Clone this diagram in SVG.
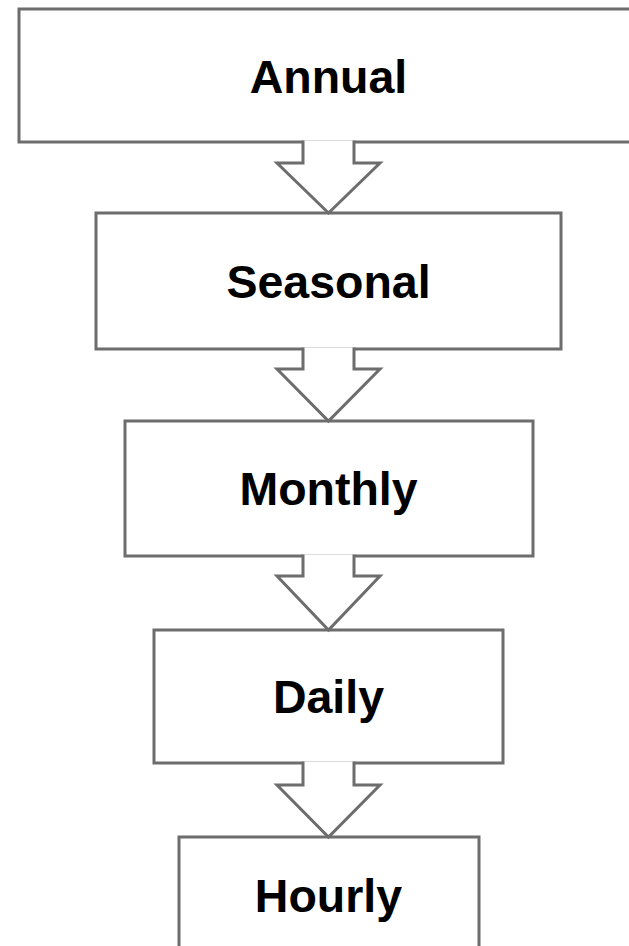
<svg xmlns="http://www.w3.org/2000/svg" width="629" height="946" viewBox="0 0 629 946">
<style>
.box{fill:#ffffff;stroke:#6d6d6d;stroke-width:3}
.lbl{font-family:"Liberation Sans",Arial,sans-serif;font-weight:bold;font-size:46.5px;fill:#000;text-anchor:middle}
.af{fill:#ffffff;stroke:none}
.as{fill:none;stroke:#6d6d6d;stroke-width:3;stroke-linejoin:miter}
</style>
<rect width="629" height="946" fill="#ffffff"/>
<g id="annual"><rect class="box" x="19" y="9" width="622" height="133"/><text class="lbl" x="328.5" y="93">Annual</text></g>
<g id="seasonal"><rect class="box" x="96" y="213" width="465" height="136"/><text class="lbl" x="328.5" y="298">Seasonal</text></g>
<g id="monthly"><rect class="box" x="125" y="421" width="408" height="135"/><text class="lbl" x="328.5" y="505">Monthly</text></g>
<g id="daily"><rect class="box" x="154" y="630" width="349" height="133"/><text class="lbl" x="328.5" y="713">Daily</text></g>
<g id="hourly"><rect class="box" x="179" y="837" width="300" height="130"/><text class="lbl" x="328.5" y="912">Hourly</text></g>
<g id="connectors">
<path class="af" d="M303 140.5V163H277L328.5 213L380 163H354V140.5Z"/>
<path class="as" d="M303 140.5V163H277L328.5 213L380 163H354V140.5"/>
<path class="af" d="M303 347.5V369H277L328.5 421L380 369H354V347.5Z"/>
<path class="as" d="M303 347.5V369H277L328.5 421L380 369H354V347.5"/>
<path class="af" d="M303 554.5V576H277L328.5 630L380 576H354V554.5Z"/>
<path class="as" d="M303 554.5V576H277L328.5 630L380 576H354V554.5"/>
<path class="af" d="M303 761.5V785H277L328.5 837L380 785H354V761.5Z"/>
<path class="as" d="M303 761.5V785H277L328.5 837L380 785H354V761.5"/>
</g>
</svg>
